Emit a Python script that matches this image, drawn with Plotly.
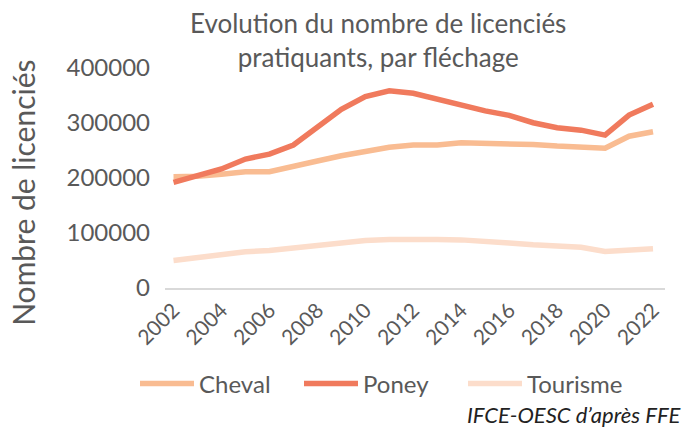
import plotly.graph_objects as go

years = list(range(2002, 2023))
cheval = [202500, 203000, 207000, 211500, 211500, 222500, 231000, 240500, 249500, 256000, 260000,
          260000, 264000, 263000, 263000, 261000, 258000, 256000, 254000, 276000, 284000]
poney = [192000, 204000, 216500, 234500, 243500, 260000, 293000, 325000, 348000, 358500, 354000,
         343000, 334000, 322000, 314000, 300500, 291500, 287000, 278000, 314500, 334000]
tourisme = [50000, 56000, 62000, 66000, 68000, 72500, 77000, 81500, 86500, 88000, 89000,
            88000, 87500, 83500, 82000, 78500, 75500, 74000, 66500, 70000, 71500]
tick_years = list(range(2002, 2023, 2))
y_ticks = [0, 100000, 200000, 300000, 400000]

FONT = "Lato"
GRAY = "#595959"

fig = go.Figure()
fig.add_trace(go.Scatter(x=years, y=cheval, name="Cheval", mode="lines",
                         line=dict(color="#F9BC92", width=5.5)))
fig.add_trace(go.Scatter(x=years, y=poney, name="Poney", mode="lines",
                         line=dict(color="#F07A5D", width=5.5)))
fig.add_trace(go.Scatter(x=years, y=tourisme, name="Tourisme", mode="lines",
                         line=dict(color="#FCDDCB", width=5.5)))

fig.update_layout(
    width=690, height=427,
    margin=dict(l=165, r=25, t=58, b=139, autoexpand=False),
    paper_bgcolor="white", plot_bgcolor="white",
    font=dict(family=FONT, color=GRAY),
    xaxis=dict(range=[2001.645, 2022.5], tickvals=tick_years, ticktext=[str(y) for y in tick_years],
               tickangle=-45, tickfont=dict(size=21, color=GRAY), showgrid=False,
               showline=True, linecolor="#D9D9D9", linewidth=1.5, ticks="", zeroline=False),
    yaxis=dict(range=[0, 418200], tickvals=y_ticks, ticktext=[str(v) for v in y_ticks],
               tickfont=dict(size=24, color=GRAY), showgrid=False, zeroline=False,
               showline=False, ticks="", ticklabelstandoff=14),
    legend=dict(orientation="h", x=-0.06, xanchor="left", y=-0.417, yanchor="middle",
                font=dict(size=24, color=GRAY), itemwidth=54, entrywidth=95),
    showlegend=True,
    annotations=[
        dict(text="Evolution du nombre de licenciés<br>pratiquants, par fléchage",
             xref="paper", yref="paper",
             x=(378 - 165) / 500, y=(288.3 - 40) / 230.3, xanchor="center", yanchor="middle",
             showarrow=False, font=dict(size=26, color=GRAY, family=FONT)),
        dict(text="Nombre de licenciés", xref="paper", yref="paper", textangle=-90,
             x=(23 - 165) / 500, y=(288.3 - 193) / 230.3, xanchor="center", yanchor="middle",
             showarrow=False, font=dict(size=30, color=GRAY, family=FONT)),
        dict(text="<i>IFCE-OESC d’après FFE</i>", xref="paper", yref="paper",
             x=(683 - 165) / 500, y=(288.3 - 415) / 230.3, xanchor="right", yanchor="middle",
             showarrow=False, font=dict(size=22, color="#222222", family=FONT)),
    ],
)

fig.write_html("out.html", config={"displayModeBar": False},
               post_script="document.body.style.margin='0';")
